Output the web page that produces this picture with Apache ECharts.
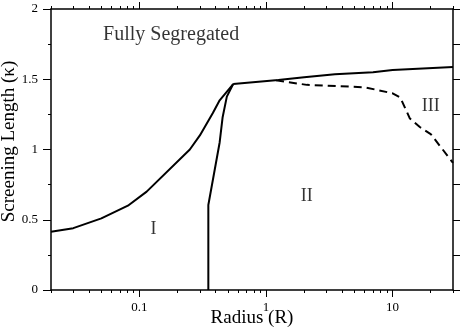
<!DOCTYPE html>
<html>
<head>
<meta charset="utf-8">
<script src="https://cdn.jsdelivr.net/npm/echarts@6/dist/echarts.min.js"></script>
<style>
  html, body { margin: 0; padding: 0; background: #fff; }
  #chart { width: 463px; height: 334px; }
</style>
</head>
<body>
<div id="chart"></div>
<script>
// phase boundaries, [radius, screening length]
const boundaryI = [[0.02, 0.415], [0.03, 0.44], [0.05, 0.51], [0.081, 0.60], [0.114, 0.70],
  [0.25, 1.0], [0.30, 1.10], [0.38, 1.26], [0.43, 1.35], [0.55, 1.466]];
const boundaryII = [[0.35, 0], [0.35, 0.605], [0.43, 1.05], [0.454, 1.23], [0.49, 1.376], [0.55, 1.466]];
const upperBoundary = [[0.55, 1.466], [1.25, 1.495], [2, 1.515], [3.5, 1.535], [7, 1.55],
  [10, 1.565], [30, 1.588]];
const dashedBoundary = [[1.2, 1.492], [2.1, 1.46], [6, 1.443], [10, 1.40], [11.5, 1.37],
  [13.7, 1.22], [16.4, 1.16], [20, 1.11], [30, 0.905]];

// region labels
const regionNames = ['Fully Segregated', 'I', 'II', 'III'];
const regionPos = [[0.178, 1.815], [0.129, 0.434], [2.1, 0.664], [20, 1.31]];

const majorTicks = [0.1, 1, 10];
const minorTicks = [0.02, 0.03, 0.04, 0.05, 0.06, 0.07, 0.08, 0.09,
  0.2, 0.3, 0.4, 0.5, 0.6, 0.7, 0.8, 0.9, 2, 3, 4, 5, 6, 7, 8, 9, 20, 30];

const FONT = 'Liberation Serif';
const black = '#000';

const xBase = {
  type: 'log', min: 0.02, max: 30, splitLine: { show: false },
  axisLine: { show: false }, axisLabel: { show: false },
  axisTick: { show: false }
};
const tickStyle = { color: black, width: 1 };

const chart = echarts.init(document.getElementById('chart'));
chart.setOption({
  animation: false,
  backgroundColor: '#fff',
  grid: { left: 51, right: 10, top: 9, bottom: 44, outerBoundsMode: 'none', containLabel: false },
  xAxis: [
    Object.assign({}, xBase, {
      position: 'bottom',
      axisLine: { show: true, lineStyle: { color: black, width: 1.5 } },
      axisTick: { show: true, customValues: majorTicks, length: 7, lineStyle: tickStyle },
      axisLabel: { show: true, customValues: majorTicks, margin: 11, color: black,
        fontFamily: FONT, fontSize: 13 },
      name: 'Radius (R)', nameLocation: 'middle', nameGap: 19, nameMoveOverlap: false,
      nameTextStyle: { fontFamily: FONT, fontSize: 19, color: black }
    }),
    Object.assign({}, xBase, {
      position: 'bottom',
      axisTick: { show: true, customValues: minorTicks, length: 3, lineStyle: tickStyle }
    }),
    Object.assign({}, xBase, {
      position: 'top',
      axisLine: { show: true, lineStyle: { color: black, width: 1.5 } },
      axisTick: { show: true, customValues: majorTicks, length: 7, lineStyle: tickStyle }
    }),
    Object.assign({}, xBase, {
      position: 'top',
      axisTick: { show: true, customValues: minorTicks, length: 3, lineStyle: tickStyle }
    })
  ],
  yAxis: [
    {
      type: 'value', min: 0, max: 2, interval: 0.5, position: 'left',
      splitLine: { show: false },
      axisLine: { show: true, lineStyle: { color: black, width: 1.5 } },
      axisTick: { length: 8, lineStyle: tickStyle },
      minorTick: { show: true, splitNumber: 2, length: 3, lineStyle: tickStyle },
      axisLabel: { margin: 13, color: black, fontFamily: FONT, fontSize: 13 },
      name: 'Screening Length (\u03ba)', nameLocation: 'middle', nameGap: 32, nameMoveOverlap: false,
      nameTextStyle: { fontFamily: FONT, fontSize: 19, color: black, padding: [0, 0, 0, 16] }
    },
    {
      type: 'value', min: 0, max: 2, interval: 0.25, position: 'right',
      splitLine: { show: false },
      axisLine: { show: true, lineStyle: { color: black, width: 1.5 } },
      axisTick: { length: 7, lineStyle: tickStyle },
      axisLabel: { show: false }
    }
  ],
  series: [
    { type: 'line', data: boundaryI, showSymbol: false, lineStyle: { color: black, width: 2 } },
    { type: 'line', data: boundaryII, showSymbol: false, lineStyle: { color: black, width: 2 } },
    { type: 'line', data: upperBoundary, showSymbol: false, lineStyle: { color: black, width: 2 } },
    { type: 'line', data: dashedBoundary, showSymbol: false,
      lineStyle: { color: black, width: 2, type: [8, 5] } },
    {
      type: 'scatter', symbolSize: 0, silent: true,
      data: regionPos.map((p, i) => ({
        value: p,
        label: { fontSize: i === 0 ? 20 : 18 }
      })),
      label: {
        show: true, position: 'inside', color: black, fontFamily: FONT,
        formatter: (p) => regionNames[p.dataIndex]
      }
    }
  ]
});
</script>
</body>
</html>
